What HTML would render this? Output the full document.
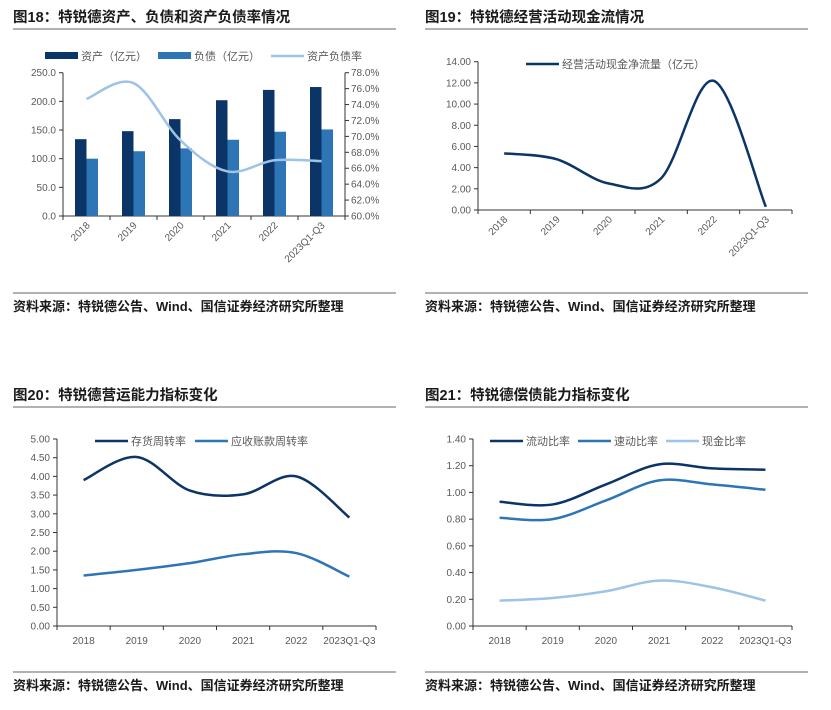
<!DOCTYPE html>
<html><head><meta charset="utf-8"><style>
body{margin:0;background:#fff;width:831px;height:710px;overflow:hidden;font-family:"Liberation Sans","Noto Sans CJK SC",sans-serif}
svg{display:block}
.t{font-size:14.5px;font-weight:bold;fill:#1a1a1a}
.s{font-size:13px;font-weight:bold;fill:#1a1a1a}
.ax{font-size:10px;fill:#595959}
.lg{font-size:11px;fill:#595959}
</style></head><body>
<svg id="c" width="831" height="710"></svg>
<script>
const cats=["2018","2019","2020","2021","2022","2023Q1-Q3"];
const assets=[134,148,169,202,220,225];
const liabs=[100,113,118,133,147,151];
const ratio=[74.7,76.7,69.5,65.6,67.0,66.9];
const cashflow=[5.35,4.8,2.5,3.0,12.2,0.3];
const invTurn=[3.9,4.52,3.62,3.52,4.0,2.9];
const arTurn=[1.35,1.5,1.68,1.92,1.95,1.32];
const curRatio=[0.93,0.91,1.06,1.21,1.18,1.17];
const quickRatio=[0.81,0.80,0.94,1.09,1.06,1.02];
const cashRatio=[0.19,0.21,0.26,0.34,0.29,0.19];
const t18=["0.0","50.0","100.0","150.0","200.0","250.0"];
const t18r=["60.0%","62.0%","64.0%","66.0%","68.0%","70.0%","72.0%","74.0%","76.0%","78.0%"];
const t19=["0.00","2.00","4.00","6.00","8.00","10.00","12.00","14.00"];
const t20=["0.00","0.50","1.00","1.50","2.00","2.50","3.00","3.50","4.00","4.50","5.00"];
const t21=["0.00","0.20","0.40","0.60","0.80","1.00","1.20","1.40"];
const DK="#0b3467",MD="#2e75b6",LT="#9dc3e6";
const svg=document.getElementById('c');const NS="http://www.w3.org/2000/svg";
function mk(tag,at,txt){const e=document.createElementNS(NS,tag);for(const k in at)e.setAttribute(k,at[k]);if(txt!=null)e.textContent=txt;svg.appendChild(e);return e;}
function smooth(p){let d="M"+p[0][0]+","+p[0][1];for(let i=0;i<p.length-1;i++){const p0=p[Math.max(i-1,0)],p1=p[i],p2=p[i+1],p3=p[Math.min(i+2,p.length-1)];const t=6;d+=" C"+(p1[0]+(p2[0]-p0[0])/t)+","+(p1[1]+(p2[1]-p0[1])/t)+" "+(p2[0]-(p3[0]-p1[0])/t)+","+(p2[1]-(p3[1]-p1[1])/t)+" "+p2[0]+","+p2[1];}return d;}
function frame(x,y,title,srcY,ruleY){let e=mk('text',{x:x,y:y,class:'t'},title);
e=mk('line',{x1:x,x2:x+383,y1:ruleY,y2:ruleY,stroke:'#999','stroke-width':1.5});
e=mk('line',{x1:x,x2:x+383,y1:srcY-18,y2:srcY-18,stroke:'#999','stroke-width':1.5});
e=mk('text',{x:x,y:srcY,class:'s'},"资料来源：特锐德公告、Wind、国信证券经济研究所整理");}
function yaxis(x,y0,y1,ticks,right){const n=ticks.length-1;let e=mk('line',{x1:x,x2:x,y1:y0,y2:y1,stroke:'#333'});
ticks.forEach((t,i)=>{const y=y0+(y1-y0)*i/n;mk('line',{x1:right?x:x-4,x2:right?x+4:x,y1:y,y2:y,stroke:'#333'});const tx=mk('text',{x:right?x+6:x-7,y:y+3.5,class:'ax','text-anchor':right?'start':'end'},t);});}
function xaxis(x0,x1,y,rot,ly){let e=mk('line',{x1:x0,x2:x1,y1:y,y2:y,stroke:'#333'});const w=(x1-x0)/cats.length;
for(let i=0;i<=cats.length;i++)mk('line',{x1:x0+w*i,x2:x0+w*i,y1:y,y2:y+4,stroke:'#333'});
cats.forEach((c,i)=>{const cx=x0+w*(i+.5);let t;if(rot){t=mk('text',{x:cx+4,y:y+10,class:'ax','text-anchor':'end',transform:`rotate(-45 ${cx+4} ${y+10})`},c);}else t=mk('text',{x:cx,y:ly,class:'ax','text-anchor':'middle'},c);});return w;}
function legend(x,y,items){items.forEach(it=>{let e;if(it.bar)e=mk('rect',{x:x,y:y-4,width:33,height:7,fill:it.c});else e=mk('line',{x1:x,x2:x+33,y1:y,y2:y,stroke:it.c,'stroke-width':2.5});
const t=mk('text',{x:x+36,y:y+4,class:'lg'},it.n);x+=36+it.w;});}
function line(vals,x0,w,y0,y1,max,min,c,name){const pts=vals.map((v,i)=>[x0+w*(i+.5),y0-(v-min)/(max-min)*(y0-y1)]);const p=mk('path',{d:smooth(pts),fill:'none',stroke:c,'stroke-width':2.5});}
// Chart 18
frame(13,22,"图18：特锐德资产、负债和资产负债率情况",311,29);
{const x0=63,x1=345,y0=216,y1=72.7;yaxis(x0,y0,y1,t18,false);yaxis(x1,y0,y1,t18r,true);const w=xaxis(x0,x1,y0,true);
assets.forEach((v,i)=>{const h=v/250*(y0-y1);const r=mk('rect',{x:x0+w*(i+.5)-11.5,y:y0-h,width:11.5,height:h,fill:DK});});
liabs.forEach((v,i)=>{const h=v/250*(y0-y1);const r=mk('rect',{x:x0+w*(i+.5),y:y0-h,width:11.5,height:h,fill:MD});});
line(ratio,x0,w,y0,y1,78,60,LT,'line-debt-ratio');
legend(45,56,[{n:"资产（亿元）",c:DK,bar:1,w:77},{n:"负债（亿元）",c:MD,bar:1,w:77},{n:"资产负债率",c:LT,w:60}]);}
// Chart 19
frame(425,22,"图19：特锐德经营活动现金流情况",311,29);
{const x0=478,x1=792,y0=210,y1=61.7;yaxis(x0,y0,y1,t19,false);const w=xaxis(x0,x1,y0,true);line(cashflow,x0,w,y0,y1,14,0,DK,'line-operating-cashflow');
legend(526,64,[{n:"经营活动现金净流量（亿元）",c:DK,w:150}]);}
// Chart 20
frame(13,400,"图20：特锐德营运能力指标变化",690,407);
{const x0=57,x1=376,y0=626,y1=439;yaxis(x0,y0,y1,t20,false);const w=xaxis(x0,x1,y0,false,644);line(invTurn,x0,w,y0,y1,5,0,DK,'line-inventory-turnover');line(arTurn,x0,w,y0,y1,5,0,MD,'line-receivable-turnover');
legend(95,441,[{n:"存货周转率",c:DK,w:64},{n:"应收账款周转率",c:MD,w:90}]);}
// Chart 21
frame(425,400,"图21：特锐德偿债能力指标变化",690,407);
{const x0=473,x1=792,y0=626,y1=439;yaxis(x0,y0,y1,t21,false);const w=xaxis(x0,x1,y0,false,644);line(curRatio,x0,w,y0,y1,1.4,0,DK,'line-current-ratio');line(quickRatio,x0,w,y0,y1,1.4,0,MD,'line-quick-ratio');line(cashRatio,x0,w,y0,y1,1.4,0,LT,'line-cash-ratio');
legend(490,441,[{n:"流动比率",c:DK,w:52},{n:"速动比率",c:MD,w:52},{n:"现金比率",c:LT,w:52}]);}
</script>
</body></html>
